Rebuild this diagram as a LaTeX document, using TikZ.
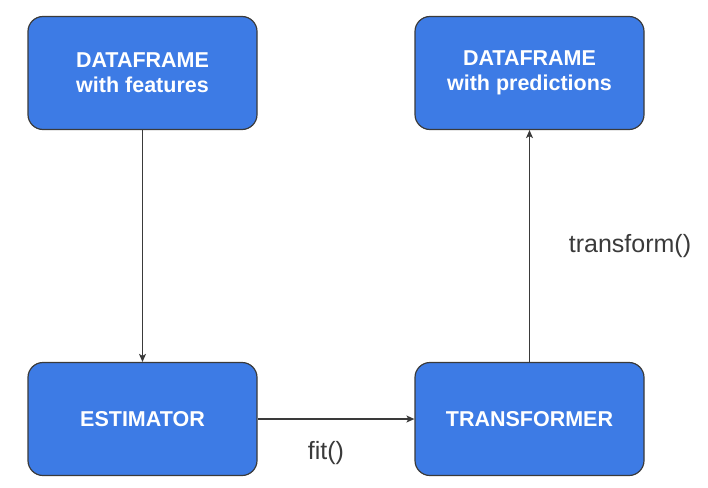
\documentclass[tikz,border=0pt]{standalone}
\usepackage{fontspec}
\setmainfont{Liberation Sans}
\usepackage{xcolor}
\usetikzlibrary{shapes,arrows.meta,positioning}
\definecolor{boxblue}{HTML}{3D7BE5}
\definecolor{edgegrey}{HTML}{3A3A3A}

\begin{document}
\begin{tikzpicture}[x=1pt,y=-1pt]
\tikzstyle{every node}+=[inner sep=0pt]
\tikzstyle{stage}=[draw=edgegrey, line width=1.2pt, fill=boxblue, rounded corners=15pt, minimum width=229pt, minimum height=113pt, text=white, align=center, font=\fontsize{21.5}{25}\selectfont\bfseries]
\tikzstyle{flow}=[draw=edgegrey, line width=1.2pt, -{Stealth[length=8pt,width=7pt,inset=2pt]}]
\tikzstyle{call}=[text=edgegrey, font=\fontsize{25}{29}\selectfont]
\useasboundingbox (0,0) rectangle (708,487);
\node [stage] (features) at (142.5,73) {DATAFRAME\\with features};
\node [stage] (predictions) at (529.5,73) {DATAFRAME\\with predictions};
\node [stage] (estimator) at (142.5,419) {ESTIMATOR};
\node [stage] (transformer) at (529.5,419) {TRANSFORMER};
\draw [flow] (features) -- (estimator);
\draw [flow] (estimator) -- (transformer);
\draw [flow] (transformer) -- (predictions);
\node [call] (fitlabel) at (326,453) {fit()};
\node [call] (translabel) at (630,246) {transform()};
\end{tikzpicture}
\end{document}
